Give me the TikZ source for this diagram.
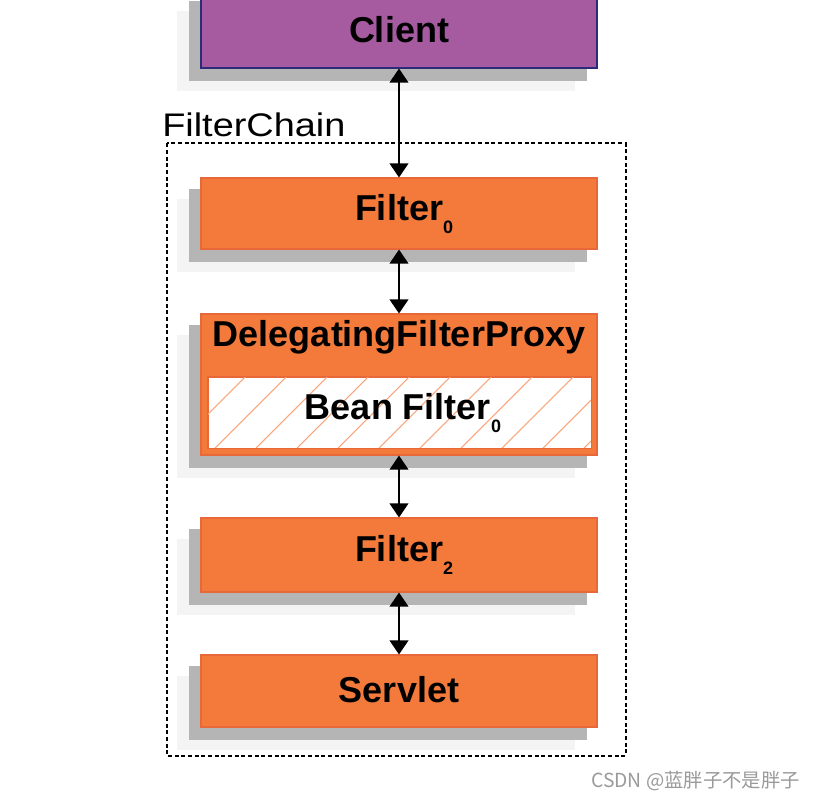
\documentclass[tikz,border=0pt]{standalone}
\usepackage{fontspec}
\setmainfont{Liberation Sans}
\newfontfamily\cjk{Noto Sans CJK SC}
\usetikzlibrary{arrows.meta}
\definecolor{orangefill}{HTML}{F47A3C}
\definecolor{orangeline}{HTML}{E8683A}
\definecolor{purplefill}{HTML}{A65AA0}
\definecolor{purpleline}{HTML}{2B2B7A}
\definecolor{shadowdark}{HTML}{B5B5B5}
\definecolor{shadowlight}{HTML}{F4F4F4}
\definecolor{hatchc}{HTML}{F9A57C}
\definecolor{wmark}{HTML}{9A9A9A}
\newcommand{\subz}[1]{\rlap{\raisebox{-10pt}{\fontsize{13.5}{13.5}\selectfont\bfseries #1}}\hspace{7.5pt}}
\tikzset{
  box/.style={draw=orangeline, line width=0.8pt, fill=orangefill, minimum width=297pt, inner sep=0pt},
  boxtext/.style={font=\fontsize{27}{29}\selectfont\bfseries, inner sep=0pt},
  link/.style={line width=1.1pt, {Triangle[width=14pt,length=10.5pt]}-{Triangle[width=14pt,length=10.5pt]}},
}
\begin{document}
\begin{tikzpicture}[x=0.75pt,y=-0.75pt]
\useasboundingbox (0,0) rectangle (816,802);
\fill[white] (0,0) rectangle (816,802);
% nodes (box outlines)
\node[box, draw=purpleline, fill=purplefill, minimum height=58.5pt] (client) at (399,29) {};
\node[box, minimum height=53.25pt] (f0) at (399,213.5) {};
\node[box, minimum height=105.75pt] (dfp) at (399,384.5) {};
\node[box, minimum height=55.5pt] (f2) at (399,555) {};
\node[box, minimum height=54pt] (servlet) at (399,691) {};
% shadows
\foreach \n in {client,f0,dfp,f2,servlet}{
  \fill[shadowlight] ([shift={(-23,22)}]\n.south west) rectangle ([shift={(-23,22)}]\n.north east);
  \fill[shadowdark] ([shift={(-11,12)}]\n.south west) rectangle ([shift={(-11,12)}]\n.north east);
}
% redraw boxes on top of shadows
\node[box, draw=purpleline, fill=purplefill, minimum height=58.5pt] at (client) {};
\node[box, minimum height=53.25pt] at (f0) {};
\node[box, minimum height=105.75pt] at (dfp) {};
\node[box, minimum height=55.5pt] at (f2) {};
\node[box, minimum height=54pt] at (servlet) {};
% inner bean box
\node[draw=orangeline, line width=0.6pt, fill=white, minimum width=287.25pt, minimum height=53.25pt, inner sep=0pt] (bean) at (399.5,412.5) {};
\begin{scope}
  \clip (bean.south west) rectangle (bean.north east);
  \foreach \i in {-3,...,11}{
    \draw[hatchc, line width=0.8pt] (215+\i*41,448) -- ++(75,-75);
  }
\end{scope}
\draw[orangeline, line width=0.6pt] (bean.south west) rectangle (bean.north east);
% texts
\node[boxtext] (tclient) at (399,30) {Client};
\node[boxtext] (tf0) at (399,214) {Filter\subz{0}};
\node[boxtext, anchor=base] (tdfp) at (399,346) {DelegatingFilterProxy};
\node[boxtext] (tbean) at (398,413) {Bean Filter\subz{0}};
\node[boxtext] (tf2) at (399,555) {Filter\subz{2}};
\node[boxtext] (tservlet) at (399,690) {Servlet};
% filter chain container
\draw[dash pattern=on 3pt off 2pt, line width=1.5pt] (166.5,143.5) rectangle (625.5,755.5);
\node[anchor=base west, inner sep=0pt, font=\fontsize{24.5}{26}\selectfont] (fc) at (162,137) {\scalebox{1.16}[1]{FilterChain}};
% connectors
\draw[link] (client.south) -- (f0.north);
\draw[link] (f0.south) -- (dfp.north);
\draw[link] (dfp.south) -- (f2.north);
\draw[link] (f2.south) -- (servlet.north);
% watermark
\node[anchor=base east, inner sep=0pt, text=wmark, font=\fontsize{14.5}{16}\selectfont] (wm) at (800,787) {\cjk CSDN @蓝胖子不是胖子};
\end{tikzpicture}
\end{document}
